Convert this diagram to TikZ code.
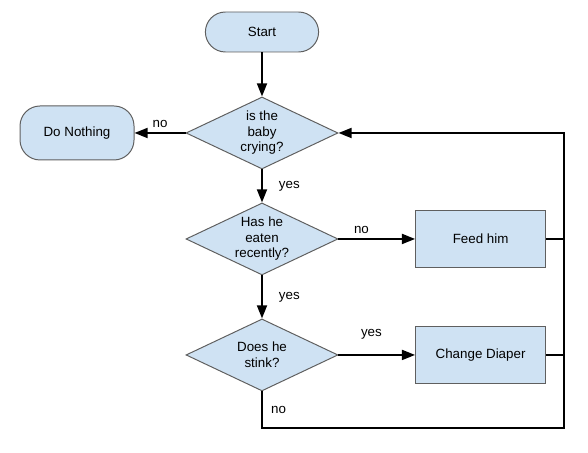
\documentclass[tikz,border=0pt]{standalone}
\usepackage{fontspec}
\setmainfont{Liberation Sans}
\usetikzlibrary{shapes.geometric,positioning,arrows.meta}
\definecolor{boxfill}{RGB}{207,226,243}
\definecolor{boxline}{RGB}{95,95,95}

\begin{document}
\begin{tikzpicture}[font=\fontsize{9.5}{11}\selectfont,
	terminal/.style={rectangle,rounded corners=0.5cm,draw=boxline,fill=boxfill,line width=0.7pt,minimum width=2.83cm,minimum height=1cm},
	decision/.style={diamond,draw=boxline,fill=boxfill,line width=0.7pt,aspect=2.1,inner sep=0pt,minimum width=3.8cm,minimum height=1.8cm,align=center},
	process/.style={rectangle,draw=boxline,fill=boxfill,line width=0.7pt,minimum width=3.25cm,minimum height=1.43cm},
	flow/.style={line width=1.4pt,-{Triangle[length=3.3mm,width=2.5mm]}},
	link/.style={line width=1.4pt}]
		\useasboundingbox (-6.55,0.8) rectangle (8.15,-10.525);

		\node[terminal] (start) at (0,0) {Start};
		\node[decision] (crying) [below=1.1cm of start] {is the\\baby\\crying?};
		\node[terminal,minimum width=2.85cm,minimum height=1.35cm] (nothing) [left=1.275cm of crying] {Do Nothing};
		\node[decision] (eaten) [below=0.825cm of crying] {Has he\\eaten\\recently?};
		\node[decision] (stink) [below=1.075cm of eaten] {Does he\\stink?};
		\node[process] (feed) [right=1.915cm of eaten] {Feed him};
		\node[process] (diaper) [right=1.915cm of stink] {Change Diaper};
		\coordinate (loop) at (7.55,-9.9);

		\draw[flow] (start) -- (crying);
		\draw[flow] (crying) -- node[above] {no} (nothing);
		\draw[flow] (crying) -- node[right=8pt] {yes} (eaten);
		\draw[flow] (eaten) -- node[above,pos=0.3] {no} (feed);
		\draw[flow] (eaten) -- node[right=8pt] {yes} (stink);
		\draw[flow] (stink) -- node[above=7pt,pos=0.43] {yes} (diaper);
		\draw[flow] (stink.south) -- node[right=2.5pt] {no} (stink.south |- loop) -- (loop) -- (loop |- crying.east) -- (crying.east);
		\draw[link] (feed.east) -- (feed.east -| loop);
		\draw[link] (diaper.east) -- (diaper.east -| loop);
	\end{tikzpicture}
\end{document}
